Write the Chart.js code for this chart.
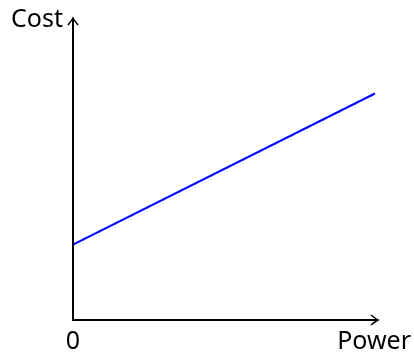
<!DOCTYPE html>
<html>
<head>
<meta charset="utf-8">
<script src="https://cdn.jsdelivr.net/npm/chart.js@4"></script>
<style>
  html, body { margin: 0; padding: 0; background: #fff; }
</style>
</head>
<body>
<canvas id="costChart" width="414" height="352"></canvas>
<script>
// power on x, cost on y (no units on the picture)
const power = [0, 10];
const cost = [2.5, 7.5];
const xLabel = 'Power';
const yLabel = 'Cost';
const originLabel = '0';

const FONT = '25px "Noto Sans"';

function arrow(ctx, x, y, dir) {
    // small open arrow tip like tikz "->"
    ctx.save();
    ctx.translate(x, y);
    ctx.rotate(dir);
    ctx.beginPath();
    ctx.moveTo(-7, -5);
    ctx.quadraticCurveTo(-2, -1, 0, 0);
    ctx.quadraticCurveTo(-2, 1, -7, 5);
    ctx.stroke();
    ctx.restore();
}

const axesPlugin = {
    id: 'axesPlugin',
    afterDraw(chart) {
        const ctx = chart.ctx;
        const a = chart.chartArea;
        ctx.save();
        ctx.strokeStyle = '#000';
        ctx.lineWidth = 2;
        ctx.beginPath();
        ctx.moveTo(a.left, a.top);
        ctx.lineTo(a.left, a.bottom);
        ctx.lineTo(a.right, a.bottom);
        ctx.stroke();
        ctx.lineWidth = 1.6;
        arrow(ctx, a.right, a.bottom, 0);
        arrow(ctx, a.left, a.top, -Math.PI / 2);

        ctx.fillStyle = '#000';
        ctx.font = FONT;
        ctx.textBaseline = 'alphabetic';
        ctx.textAlign = 'right';
        ctx.fillText(yLabel, a.left - 10, a.top + 9);
        ctx.textAlign = 'center';
        ctx.fillText(originLabel, a.left, a.bottom + 29);
        ctx.textAlign = 'right';
        ctx.fillText(xLabel, 411, a.bottom + 29);
        ctx.restore();
    }
};

const ctx = document.getElementById('costChart').getContext('2d');
const myChart = new Chart(ctx, {
    type: 'line',
    data: {
        datasets: [{
            data: power.map((p, i) => ({ x: p, y: cost[i] })),
            borderColor: '#0000ff',
            borderWidth: 2,
            pointRadius: 0,
            fill: false
        }]
    },
    options: {
        responsive: false,
        animation: false,
        layout: { padding: { left: 73, right: 36, top: 18, bottom: 32 } },
        plugins: { legend: { display: false }, tooltip: { enabled: false } },
        scales: {
            x: { type: 'linear', min: 0, max: 10.1, display: false },
            y: { type: 'linear', min: 0, max: 10, display: false }
        }
    },
    plugins: [axesPlugin]
});
</script>
</body>
</html>
